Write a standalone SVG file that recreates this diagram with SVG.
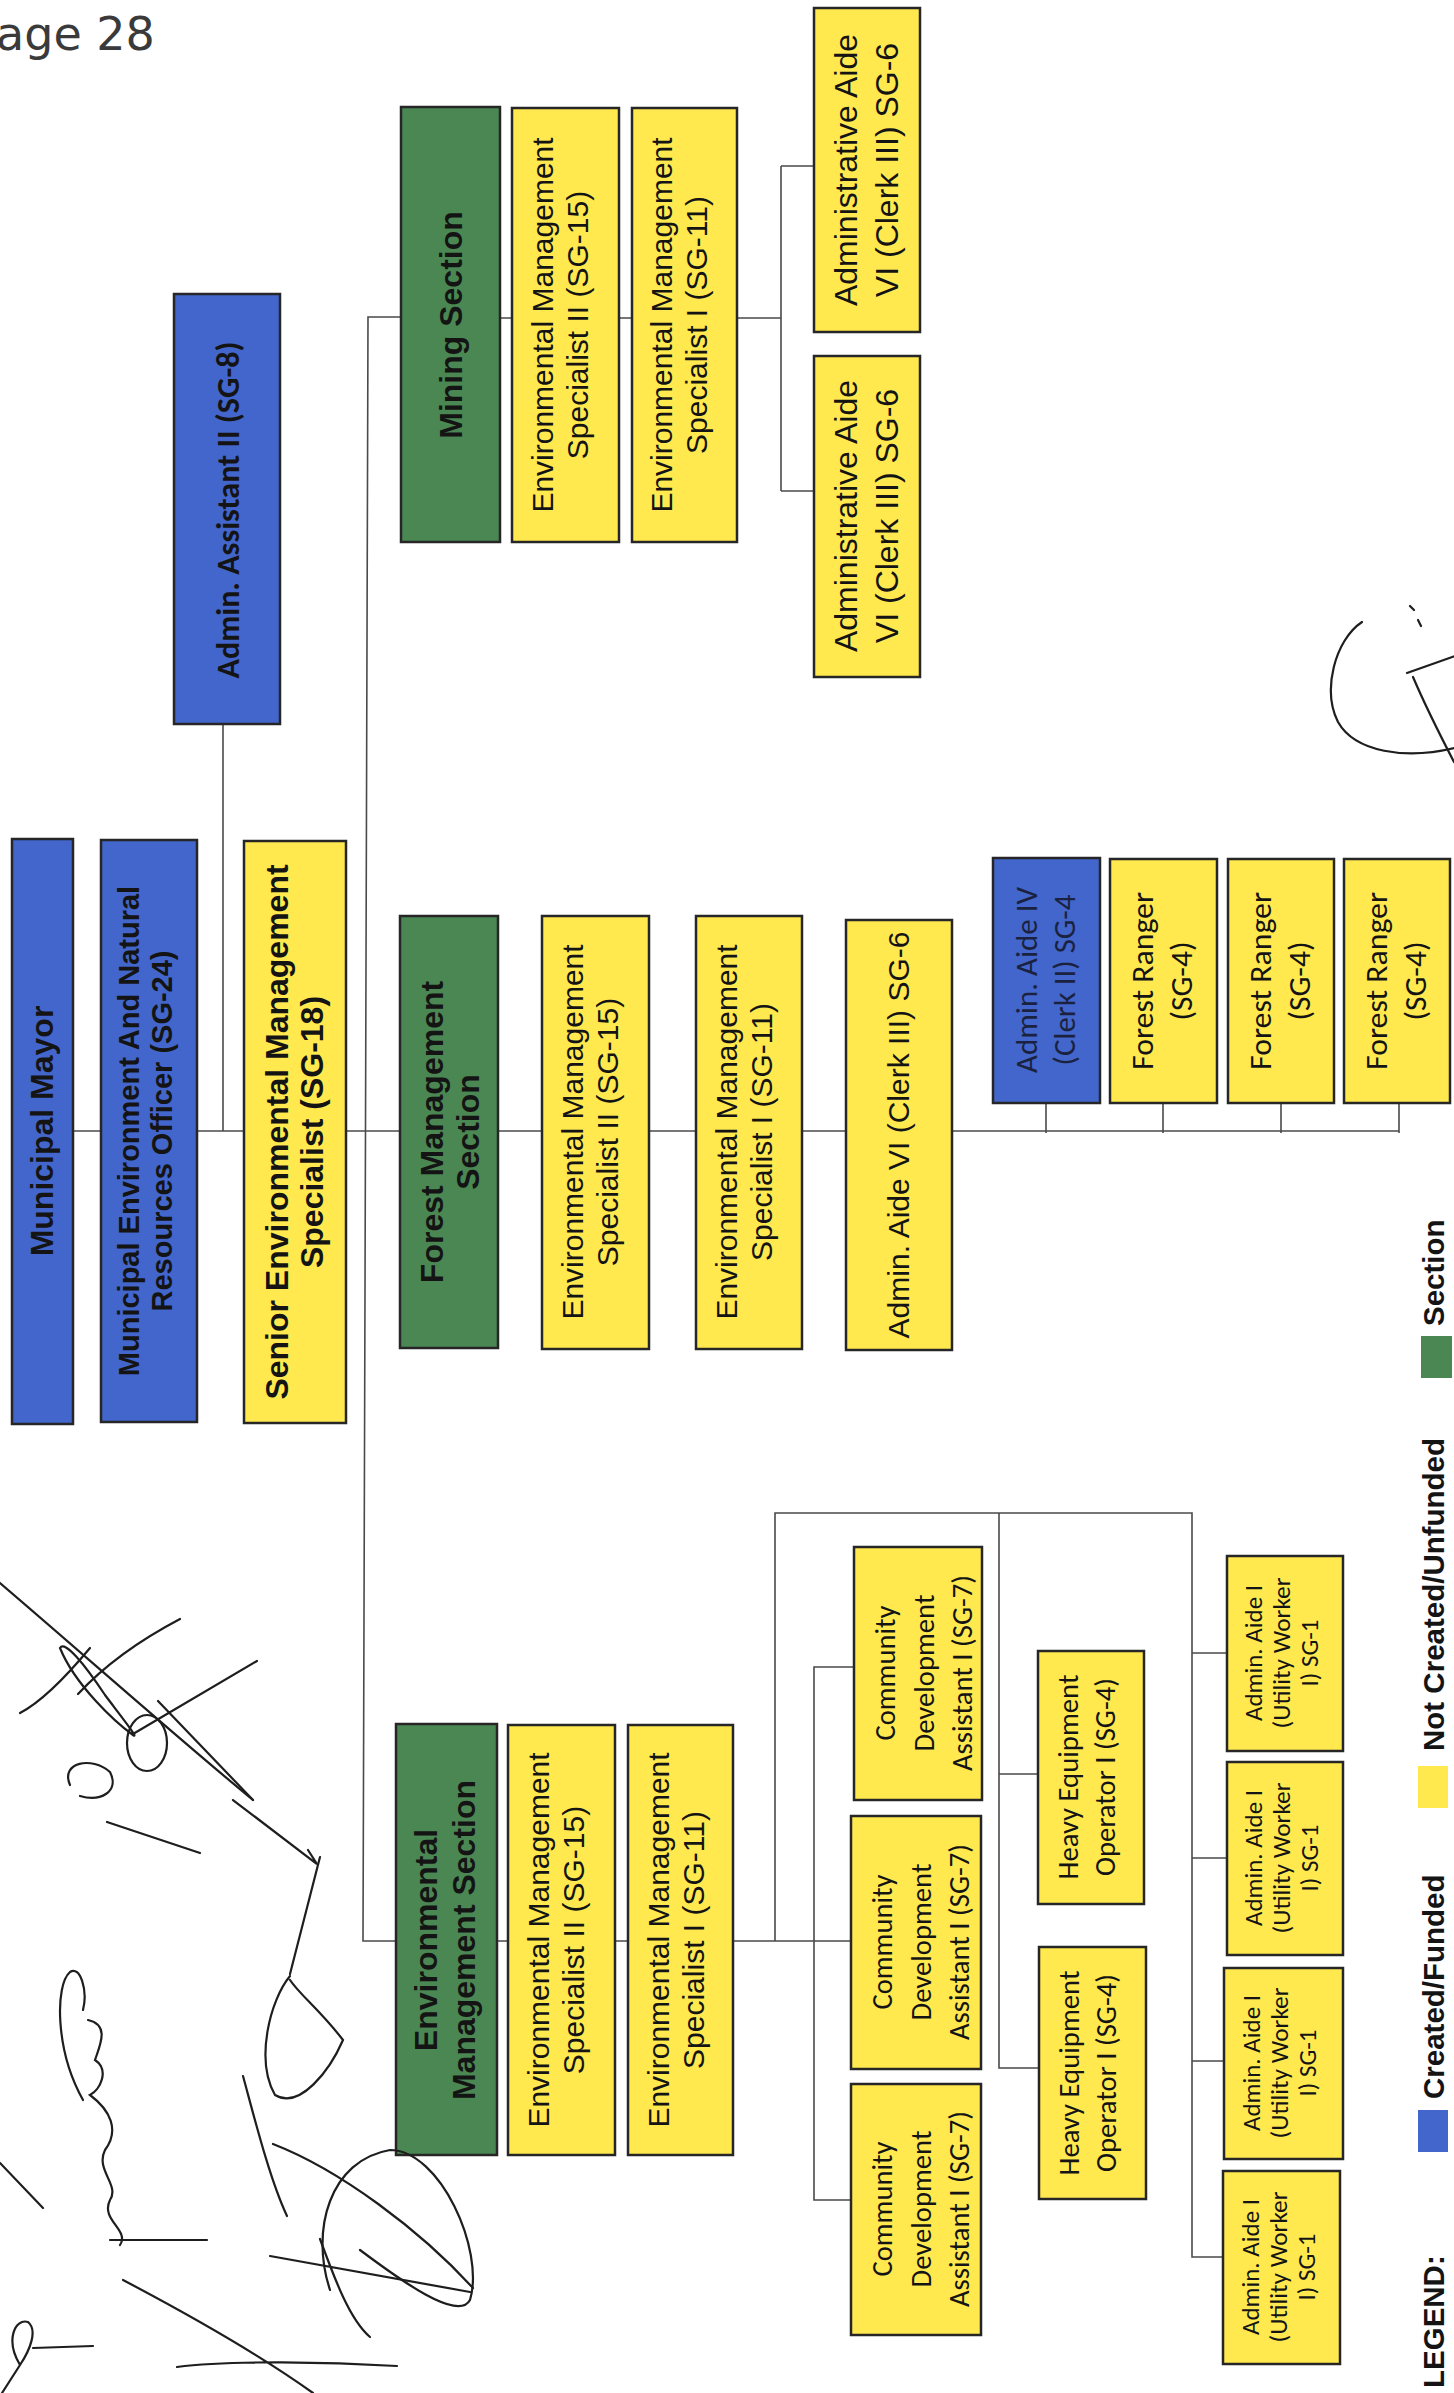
<svg xmlns="http://www.w3.org/2000/svg" width="1454" height="2393" viewBox="0 0 1454 2393">
<style>
.bx{stroke:#262626;stroke-width:2.5}
.blue{fill:#4266CB}.yel{fill:#FFE94F}.grn{fill:#4A8752}
.conn{stroke:#4a4a4a;stroke-width:1.6;fill:none}
.sig{stroke:#1e1e1e;stroke-width:2.2;fill:none;stroke-linecap:round}
text{fill:#141414;text-anchor:middle}
.ab{font-family:"Liberation Sans",Arial,sans-serif;font-weight:bold}
.ar{font-family:"Liberation Sans",Arial,sans-serif}
.cr{font-family:Carlito,Lato,"Open Sans",sans-serif}
.cb{font-family:Carlito,Lato,"Open Sans",sans-serif;font-weight:bold}
.lg{font-family:"Liberation Sans",Arial,sans-serif;font-weight:bold;font-size:29.5px;text-anchor:start}
</style>
<g id="connectors">
<path class="conn" d="M73,1131 H1399"/>
<path class="conn" d="M223,724 V1131"/>
<path class="conn" d="M401,317 H368 L363,1941 H851"/>
<path class="conn" d="M500,318 H781 M781,166 V491 M781,166 H814 M781,491 H814"/>
<path class="conn" d="M1046,1103 V1133 M1163,1103 V1133 M1281,1103 V1133 M1399,1103 V1133"/>
<path class="conn" d="M775,1941 V1513 H1192 V2257 H1223 M1192,1653 H1227 M1192,1858 H1227 M1192,2061 H1224"/>
<path class="conn" d="M999,1513 V2068 H1039 M999,1774 H1038"/>
<path class="conn" d="M855,1667 H814 V2200 H851"/>
</g>
<g id="mayor"><rect class="bx blue" x="12" y="839" width="61" height="585"/>
<text class="ab" font-size="32" transform="translate(53,1131) rotate(-90)">Municipal Mayor</text></g>
<g id="menro"><rect class="bx blue" x="101" y="840" width="96" height="582"/>
<text class="ab" font-size="29" transform="translate(139,1131) rotate(-90)">Municipal Environment And Natural</text>
<text class="ab" font-size="29" transform="translate(172,1131) rotate(-90)">Resources Officer (SG-24)</text></g>
<g id="admin-assistant"><rect class="bx blue" x="174" y="294" width="106" height="430"/>
<text class="cb" font-size="32" textLength="337" lengthAdjust="spacingAndGlyphs" transform="translate(239,510) rotate(-90)">Admin. Assistant II (SG-8)</text></g>
<g id="senior"><rect class="bx yel" x="244" y="841" width="102" height="582"/>
<text class="ab" font-size="32" transform="translate(288,1132) rotate(-90)">Senior Environmental Management</text>
<text class="ab" font-size="32" transform="translate(323,1132) rotate(-90)">Specialist (SG-18)</text></g>
<g id="mining"><rect class="bx grn" x="401" y="107" width="99" height="435"/>
<text class="ab" font-size="32" transform="translate(462,325) rotate(-90)">Mining Section</text></g>
<g id="mining-ems2"><rect class="bx yel" x="512" y="108" width="107" height="434"/>
<text class="ar" font-size="30" transform="translate(553,325) rotate(-90)">Environmental Management</text>
<text class="ar" font-size="30" transform="translate(588,325) rotate(-90)">Specialist II (SG-15)</text></g>
<g id="mining-ems1"><rect class="bx yel" x="632" y="108" width="105" height="434"/>
<text class="ar" font-size="30" transform="translate(672,325) rotate(-90)">Environmental Management</text>
<text class="ar" font-size="30" transform="translate(707,325) rotate(-90)">Specialist I (SG-11)</text></g>
<g id="mining-aa-1"><rect class="bx yel" x="814" y="8" width="106" height="324"/>
<text class="ar" font-size="32" transform="translate(857,170) rotate(-90)">Administrative Aide</text>
<text class="ar" font-size="32" transform="translate(898,170) rotate(-90)">VI (Clerk III) SG-6</text></g>
<g id="mining-aa-2"><rect class="bx yel" x="814" y="356" width="106" height="321"/>
<text class="ar" font-size="32" transform="translate(857,516) rotate(-90)">Administrative Aide</text>
<text class="ar" font-size="32" transform="translate(898,516) rotate(-90)">VI (Clerk III) SG-6</text></g>
<g id="forest"><rect class="bx grn" x="400" y="916" width="98" height="432"/>
<text class="ab" font-size="32" transform="translate(443,1132) rotate(-90)">Forest Management</text>
<text class="ab" font-size="32" transform="translate(479,1132) rotate(-90)">Section</text></g>
<g id="forest-ems2"><rect class="bx yel" x="542" y="916" width="107" height="433"/>
<text class="ar" font-size="30" transform="translate(583,1132) rotate(-90)">Environmental Management</text>
<text class="ar" font-size="30" transform="translate(618,1132) rotate(-90)">Specialist II (SG-15)</text></g>
<g id="forest-ems1"><rect class="bx yel" x="696" y="916" width="106" height="433"/>
<text class="ar" font-size="30" transform="translate(737,1132) rotate(-90)">Environmental Management</text>
<text class="ar" font-size="30" transform="translate(772,1132) rotate(-90)">Specialist I (SG-11)</text></g>
<g id="forest-aa6"><rect class="bx yel" x="846" y="920" width="106" height="430"/>
<text class="ar" font-size="30" transform="translate(909,1135) rotate(-90)">Admin. Aide VI (Clerk III) SG-6</text></g>
<g id="admin-aide-iv"><rect class="bx blue" x="993" y="858" width="107" height="245"/>
<text class="cr" font-size="31" textLength="186" lengthAdjust="spacingAndGlyphs" transform="translate(1037,980) rotate(-90)" style="fill:#1b2240">Admin. Aide IV</text>
<text class="cr" font-size="31" textLength="171" lengthAdjust="spacingAndGlyphs" transform="translate(1075,980) rotate(-90)" style="fill:#1b2240">(Clerk II) SG-4</text></g>
<g id="forest-ranger-1"><rect class="bx yel" x="1110" y="859" width="107" height="244"/>
<text class="cr" font-size="31.5" textLength="178" lengthAdjust="spacingAndGlyphs" transform="translate(1153,981) rotate(-90)">Forest Ranger</text>
<text class="cr" font-size="31.5" textLength="79" lengthAdjust="spacingAndGlyphs" transform="translate(1192,981) rotate(-90)">(SG-4)</text></g>
<g id="forest-ranger-2"><rect class="bx yel" x="1228" y="859" width="106" height="244"/>
<text class="cr" font-size="31.5" textLength="178" lengthAdjust="spacingAndGlyphs" transform="translate(1271,981) rotate(-90)">Forest Ranger</text>
<text class="cr" font-size="31.5" textLength="79" lengthAdjust="spacingAndGlyphs" transform="translate(1310,981) rotate(-90)">(SG-4)</text></g>
<g id="forest-ranger-3"><rect class="bx yel" x="1344" y="859" width="106" height="244"/>
<text class="cr" font-size="31.5" textLength="178" lengthAdjust="spacingAndGlyphs" transform="translate(1387,981) rotate(-90)">Forest Ranger</text>
<text class="cr" font-size="31.5" textLength="79" lengthAdjust="spacingAndGlyphs" transform="translate(1426,981) rotate(-90)">(SG-4)</text></g>
<g id="env-section"><rect class="bx grn" x="396" y="1724" width="101" height="431"/>
<text class="ab" font-size="32" transform="translate(437,1940) rotate(-90)">Environmental</text>
<text class="ab" font-size="32" transform="translate(475,1940) rotate(-90)">Management Section</text></g>
<g id="env-ems2"><rect class="bx yel" x="508" y="1725" width="107" height="430"/>
<text class="ar" font-size="30" transform="translate(549,1940) rotate(-90)">Environmental Management</text>
<text class="ar" font-size="30" transform="translate(584,1940) rotate(-90)">Specialist II (SG-15)</text></g>
<g id="env-ems1"><rect class="bx yel" x="628" y="1725" width="105" height="430"/>
<text class="ar" font-size="30" transform="translate(669,1940) rotate(-90)">Environmental Management</text>
<text class="ar" font-size="30" transform="translate(704,1940) rotate(-90)">Specialist I (SG-11)</text></g>
<g id="cda-1"><rect class="bx yel" x="854" y="1547" width="128" height="253"/>
<text class="cr" font-size="28.5" textLength="135" lengthAdjust="spacingAndGlyphs" transform="translate(895,1673) rotate(-90)">Community</text>
<text class="cr" font-size="28.5" textLength="157" lengthAdjust="spacingAndGlyphs" transform="translate(934,1673) rotate(-90)">Development</text>
<text class="cr" font-size="28.5" textLength="196" lengthAdjust="spacingAndGlyphs" transform="translate(972,1673) rotate(-90)">Assistant I (SG-7)</text></g>
<g id="cda-2"><rect class="bx yel" x="851" y="1816" width="130" height="253"/>
<text class="cr" font-size="28.5" textLength="135" lengthAdjust="spacingAndGlyphs" transform="translate(892,1942) rotate(-90)">Community</text>
<text class="cr" font-size="28.5" textLength="157" lengthAdjust="spacingAndGlyphs" transform="translate(931,1942) rotate(-90)">Development</text>
<text class="cr" font-size="28.5" textLength="196" lengthAdjust="spacingAndGlyphs" transform="translate(969,1942) rotate(-90)">Assistant I (SG-7)</text></g>
<g id="cda-3"><rect class="bx yel" x="851" y="2084" width="130" height="251"/>
<text class="cr" font-size="28.5" textLength="135" lengthAdjust="spacingAndGlyphs" transform="translate(892,2209) rotate(-90)">Community</text>
<text class="cr" font-size="28.5" textLength="157" lengthAdjust="spacingAndGlyphs" transform="translate(931,2209) rotate(-90)">Development</text>
<text class="cr" font-size="28.5" textLength="196" lengthAdjust="spacingAndGlyphs" transform="translate(969,2209) rotate(-90)">Assistant I (SG-7)</text></g>
<g id="heo-1"><rect class="bx yel" x="1038" y="1651" width="106" height="253"/>
<text class="cr" font-size="28.5" textLength="205" lengthAdjust="spacingAndGlyphs" transform="translate(1078,1777) rotate(-90)">Heavy Equipment</text>
<text class="cr" font-size="28.5" textLength="198" lengthAdjust="spacingAndGlyphs" transform="translate(1115,1777) rotate(-90)">Operator I (SG-4)</text></g>
<g id="heo-2"><rect class="bx yel" x="1039" y="1947" width="107" height="252"/>
<text class="cr" font-size="28.5" textLength="205" lengthAdjust="spacingAndGlyphs" transform="translate(1079,2073) rotate(-90)">Heavy Equipment</text>
<text class="cr" font-size="28.5" textLength="198" lengthAdjust="spacingAndGlyphs" transform="translate(1116,2073) rotate(-90)">Operator I (SG-4)</text></g>
<g id="aa1-1"><rect class="bx yel" x="1227" y="1556" width="116" height="195"/>
<text class="cr" font-size="25" textLength="136" lengthAdjust="spacingAndGlyphs" transform="translate(1262,1653) rotate(-90)">Admin. Aide I</text>
<text class="cr" font-size="25" textLength="151" lengthAdjust="spacingAndGlyphs" transform="translate(1290,1653) rotate(-90)">(Utility Worker</text>
<text class="cr" font-size="25" textLength="67" lengthAdjust="spacingAndGlyphs" transform="translate(1318,1653) rotate(-90)">I) SG-1</text></g>
<g id="aa1-2"><rect class="bx yel" x="1227" y="1762" width="116" height="193"/>
<text class="cr" font-size="25" textLength="136" lengthAdjust="spacingAndGlyphs" transform="translate(1262,1858) rotate(-90)">Admin. Aide I</text>
<text class="cr" font-size="25" textLength="151" lengthAdjust="spacingAndGlyphs" transform="translate(1290,1858) rotate(-90)">(Utility Worker</text>
<text class="cr" font-size="25" textLength="67" lengthAdjust="spacingAndGlyphs" transform="translate(1318,1858) rotate(-90)">I) SG-1</text></g>
<g id="aa1-3"><rect class="bx yel" x="1224" y="1968" width="119" height="191"/>
<text class="cr" font-size="25" textLength="136" lengthAdjust="spacingAndGlyphs" transform="translate(1260,2063) rotate(-90)">Admin. Aide I</text>
<text class="cr" font-size="25" textLength="151" lengthAdjust="spacingAndGlyphs" transform="translate(1288,2063) rotate(-90)">(Utility Worker</text>
<text class="cr" font-size="25" textLength="67" lengthAdjust="spacingAndGlyphs" transform="translate(1316,2063) rotate(-90)">I) SG-1</text></g>
<g id="aa1-4"><rect class="bx yel" x="1223" y="2171" width="117" height="193"/>
<text class="cr" font-size="25" textLength="136" lengthAdjust="spacingAndGlyphs" transform="translate(1259,2267) rotate(-90)">Admin. Aide I</text>
<text class="cr" font-size="25" textLength="151" lengthAdjust="spacingAndGlyphs" transform="translate(1287,2267) rotate(-90)">(Utility Worker</text>
<text class="cr" font-size="25" textLength="67" lengthAdjust="spacingAndGlyphs" transform="translate(1315,2267) rotate(-90)">I) SG-1</text></g>
<g id="legend">
<text class="lg" transform="translate(1444,2388) rotate(-90)">LEGEND:</text>
<rect class="blue" x="1418" y="2110" width="30" height="42"/>
<text class="lg" transform="translate(1444,2099) rotate(-90)">Created/Funded</text>
<rect class="yel" x="1418" y="1766" width="30" height="42"/>
<text class="lg" transform="translate(1444,1751) rotate(-90)">Not Created/Unfunded</text>
<rect class="grn" x="1421" y="1336" width="31" height="42"/>
<text class="lg" transform="translate(1444,1326) rotate(-90)">Section</text>
</g>
<g id="handwriting">
<text x="-4" y="50" font-family="'DejaVu Sans',sans-serif" font-size="46" style="text-anchor:start;fill:#3a3a3a" font-weight="normal">age 28</text>
</g>
<g id="signatures">
<path class="sig" d="M1362,622 C1335,640 1322,690 1338,722 C1355,752 1405,760 1455,748"/>
<path class="sig" d="M1407,673 L1455,656 M1413,677 C1425,705 1440,735 1454,762 M1410,606 L1414,610 M1418,620 L1421,626"/>
<path class="sig" d="M0,1583 C90,1660 180,1740 253,1800"/>
<path class="sig" d="M180,1619 C140,1640 105,1665 78,1694 M257,1661 L133,1734 M158,1701 L253,1800 M90,1648 C70,1672 45,1700 20,1713"/>
<path class="sig" d="M60,1648 C65,1640 85,1665 105,1695 C120,1715 140,1740 133,1735 C115,1722 75,1685 60,1648 Z"/>
<ellipse class="sig" cx="147" cy="1743" rx="20" ry="28"/>
<path class="sig" d="M70,1785 C60,1762 92,1756 110,1772 C120,1792 100,1802 80,1796"/>
<path class="sig" d="M107,1822 L200,1853 M233,1800 L317,1864 L308,1850"/>
<path class="sig" d="M83,2100 C55,2050 55,1985 70,1972 C80,1965 88,1990 83,2010"/>
<path class="sig" d="M88,2020 C110,2025 100,2045 95,2060 C110,2070 100,2090 90,2095 C110,2110 120,2130 105,2150 C95,2170 120,2185 110,2200 C100,2220 130,2230 120,2245 M110,2240 L207,2240"/>
<path class="sig" d="M290,1974 L320,1857 M290,1976 C270,2000 255,2060 275,2095 C300,2110 330,2070 343,2040 C320,2010 300,1995 290,1980"/>
<path class="sig" d="M243,2076 C255,2120 270,2180 287,2216 M273,2144 C340,2170 420,2230 473,2288 M270,2256 L470,2292 M320,2239 C335,2280 350,2320 370,2337"/>
<path class="sig" d="M330,2290 C310,2230 330,2160 390,2150 C440,2150 485,2250 470,2300 C458,2322 400,2280 360,2250"/>
<path class="sig" d="M123,2280 C180,2310 260,2355 313,2393 M177,2367 C230,2360 330,2362 397,2366 M0,2163 L43,2208"/>
<path class="sig" d="M20,2365 C5,2340 15,2318 28,2322 C38,2330 30,2350 20,2365 L2,2393 M33,2348 L93,2346"/>
</g>
</svg>
